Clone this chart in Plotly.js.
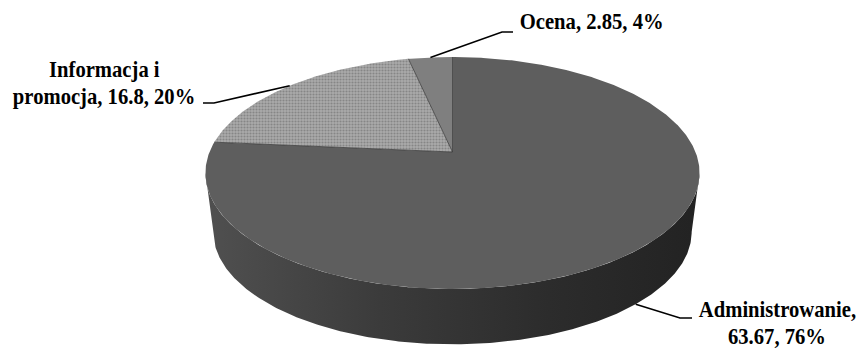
<!DOCTYPE html>
<html>
<head>
<meta charset="utf-8">
<script src="https://cdn.plot.ly/plotly-3.0.1.min.js"></script>
<style>
  html, body { margin: 0; padding: 0; background: #ffffff; }
  #chart { width: 863px; height: 349px; }
  /* narrow, tightly set label type */
  #chart .annotation-text { transform-box: fill-box; transform-origin: center; transform: scaleX(0.86); }
</style>
</head>
<body>
<div id="chart"></div>
<script>
// ---- data ----
const categories = ['Administrowanie', 'Informacja i promocja', 'Ocena'];
const values = [63.67, 16.8, 2.85];
const percents = [76, 20, 4];

// ---- styling ----
const topColors = ['#5e5e5e', '#a6a6a6', '#7f7f7f'];
const wallScale = [[0, '#4f4f4f'], [0.35, '#3b3b3b'], [0.7, '#2c2c2c'], [1, '#232323']];
const fontFamily = 'Liberation Serif, Times New Roman, serif';

// tilted disc seen in perspective (pixel units of the plot area)
const P = { cx: 452.5, cy: 152, a: 243, b: 112.2, k: 0.181, depth: 59.7, shrink: 0.968 };

// theta: radians, clockwise from 12 o'clock; level 0 = top face, 1 = bottom rim
function project(theta, level) {
  const u = Math.sin(theta), v = Math.cos(theta);
  const w = 1 + P.k * v;
  const s = level ? P.shrink : 1;
  return [P.cx + s * P.a * u / w, P.cy + (level ? P.depth : 0) - s * P.b * v / w];
}
function arc(t0, t1, level) {
  const n = Math.max(2, Math.ceil(Math.abs(t1 - t0) / 0.01));
  const xs = [], ys = [];
  for (let i = 0; i <= n; i++) {
    const p = project(t0 + (t1 - t0) * i / n, level);
    xs.push(p[0]); ys.push(p[1]);
  }
  return [xs, ys];
}

const TAU = 2 * Math.PI;
const total = values.reduce((s, v) => s + v, 0);
const slices = [];
let acc = 0;
values.forEach((v, i) => {
  const start = acc / total * TAU;
  acc += v;
  slices.push({ i, start, end: acc / total * TAU, mid: (start + acc / total * TAU) / 2 });
});

// front part of the rim that faces the viewer
const frontR = Math.acos(-P.k);
const frontL = TAU - frontR;
const gradStart = project(frontL, 1)[0];
const gradStop = project(frontR, 1)[0];

const traces = [];

// side walls
slices.forEach(s => {
  const lo = Math.max(s.start, frontR), hi = Math.min(s.end, frontL);
  if (lo >= hi) return;
  const top = arc(lo, hi, 0), bot = arc(hi, lo, 1);
  traces.push({
    type: 'scatter', mode: 'lines', hoverinfo: 'skip', showlegend: false,
    x: top[0].concat(bot[0]), y: top[1].concat(bot[1]),
    fill: 'toself', line: { width: 0 },
    fillgradient: { type: 'horizontal', colorscale: wallScale, start: gradStart, stop: gradStop }
  });
});

// top faces
slices.forEach(s => {
  const edge = arc(s.start, s.end, 0);
  const t = {
    type: 'scatter', mode: 'lines', hoverinfo: 'skip', showlegend: false,
    x: [P.cx].concat(edge[0], [P.cx]), y: [P.cy].concat(edge[1], [P.cy]),
    fill: 'toself', fillcolor: topColors[s.i], line: { width: 0 }
  };
  if (s.i === 1) {
    t.fillpattern = { shape: '.', bgcolor: '#ababab', fgcolor: '#868686', size: 3, solidity: 0.4 };
  }
  traces.push(t);
});

// slice borders on the top face
slices.forEach(s => {
  const p = project(s.start, 0);
  traces.push({
    type: 'scatter', mode: 'lines', hoverinfo: 'skip', showlegend: false,
    x: [P.cx, p[0]], y: [P.cy, p[1]], line: { color: '#3c3c3c', width: 0.8 }
  });
});

// label placement: elbow of the leader, end of its short tail, text centre
const labelPlaces = [
  { elbow: [680, 318], tail: 692, x: 777, y: 309, gap: 26.5 },
  { elbow: [214, 103], tail: 203, x: 104, y: 69, gap: 27 },
  { elbow: [502, 32], tail: 513, x: 591, y: 21, gap: 27 }
];

function wrap(text, maxChars) {
  const words = text.split(' ');
  const lines = [];
  let cur = '';
  words.forEach(w => {
    const next = cur ? cur + ' ' + w : w;
    if (next.length > maxChars && cur) { lines.push(cur); cur = w; }
    else cur = next;
  });
  if (cur) lines.push(cur);
  return lines;
}

const annotations = [];
slices.forEach(s => {
  const place = labelPlaces[s.i];
  const front = s.mid > frontR && s.mid < frontL;
  const p0 = project(s.mid, front ? 1 : 0);
  traces.push({
    type: 'scatter', mode: 'lines', hoverinfo: 'skip', showlegend: false,
    x: [p0[0], place.elbow[0], place.tail], y: [p0[1], place.elbow[1], place.elbow[1]],
    line: { color: '#000000', width: 1.6 }
  });
  const text = categories[s.i] + ', ' + values[s.i] + ', ' + percents[s.i] + '%';
  wrap(text, 19).forEach((line, j) => {
    annotations.push({
      x: place.x, y: place.y + j * place.gap, xref: 'x', yref: 'y',
      text: line, showarrow: false, xanchor: 'center', yanchor: 'middle', borderpad: 0,
      font: { family: fontFamily, size: 24, weight: 'bold', color: '#000000' }
    });
  });
});

const layout = {
  width: 863, height: 349,
  margin: { l: 0, r: 0, t: 0, b: 0 },
  paper_bgcolor: '#ffffff', plot_bgcolor: '#ffffff',
  showlegend: false, hovermode: false,
  xaxis: { range: [0, 863], visible: false, fixedrange: true },
  yaxis: { range: [349, 0], visible: false, fixedrange: true },
  annotations
};

Plotly.newPlot('chart', traces, layout, { staticPlot: true, displayModeBar: false });
</script>
</body>
</html>
